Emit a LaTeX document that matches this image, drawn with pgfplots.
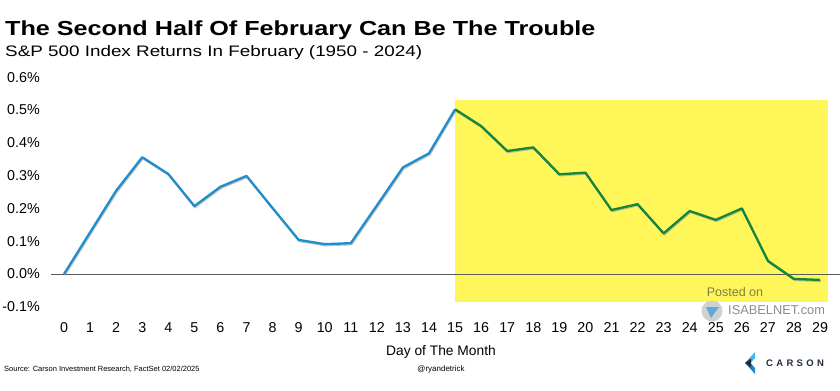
\documentclass[border=0pt]{standalone}
\usepackage{pgfplots}
\pgfplotsset{compat=1.18}
\usepackage{pgfplotstable}
\usepackage{fontspec}
\setmainfont{Liberation Sans}
\newfontfamily\titlefont[FakeStretch=1.24]{Liberation Sans}
\newfontfamily\subfont[FakeStretch=1.24]{Liberation Sans}
\definecolor{lineblue}{HTML}{1F8FCB}
\definecolor{linegreen}{HTML}{14853B}
\definecolor{hiyellow}{HTML}{FFF75A}
\definecolor{zerogray}{HTML}{5A5A5A}
\definecolor{navy}{HTML}{1F2D3D}
\definecolor{carsonlight}{HTML}{3CB8EC}
\definecolor{carsondark}{HTML}{1C86C8}

\pgfplotstableread{
d r
0 0.000
1 0.127
2 0.254
3 0.356
4 0.305
5 0.207
6 0.266
7 0.299
8 0.201
9 0.104
10 0.091
11 0.094
12 0.209
13 0.325
14 0.368
15 0.502
}\firsthalf
\pgfplotstableread{
d r
15 0.502
16 0.451
17 0.375
18 0.386
19 0.304
20 0.309
21 0.195
22 0.213
23 0.124
24 0.192
25 0.165
26 0.200
27 0.040
28 -0.015
29 -0.018
}\secondhalf

\begin{document}
\begin{tikzpicture}[x=1bp,y=1bp]
\begin{axis}[
  at={(51bp,83.2bp)}, anchor=south west,
  scale only axis, width=788.6bp, height=229.6bp,
  xmin=-0.5, xmax=29.75, ymin=-0.1, ymax=0.6,
  axis line style={draw=none},
  major tick length=0pt,
  clip=false,
  xtick={0,...,29},
  ytick={-0.1,0,0.1,0.2,0.3,0.4,0.5,0.6},
  yticklabels={-0.1\%,0.0\%,0.1\%,0.2\%,0.3\%,0.4\%,0.5\%,0.6\%},
  /pgf/number format/assume math mode=true,
  tick label style={font=\fontsize{14.3bp}{16bp}\selectfont, inner sep=0pt},
  yticklabel style={anchor=east, xshift=-11bp},
  xticklabel style={anchor=base, yshift=-25.2bp},
]
\addplot[fill=hiyellow, draw=none] coordinates {(15,-0.086) (29.31,-0.086) (29.31,0.5305) (15,0.5305)} -- cycle;
\draw[zerogray, line width=0.9bp] (axis cs:-0.5,0) -- (axis cs:29.75,0);
\addplot[black!40, line width=2bp, xshift=0.7bp, yshift=-1.2bp, opacity=0.6] table[x=d,y=r] {\firsthalf};
\addplot[black!40, line width=2bp, xshift=0.7bp, yshift=-1.2bp, opacity=0.6] table[x=d,y=r] {\secondhalf};
\addplot[lineblue, line width=2.3bp, line join=round] table[x=d,y=r] {\firsthalf};
\addplot[linegreen, line width=2.3bp, line join=round] table[x=d,y=r] {\secondhalf};
\end{axis}
% titles
\node[anchor=base west, inner sep=0pt] at (5,355) {\titlefont\bfseries\fontsize{20.3bp}{24bp}\selectfont The Second Half Of February Can Be The Trouble};
\node[anchor=base west, inner sep=0pt] at (5,333.5) {\subfont\fontsize{15.2bp}{18bp}\selectfont S\&P 500 Index Returns In February (1950 - 2024)};
% axis label and footer
\node[inner sep=0pt] at (441,38) {\fontsize{13.8bp}{16bp}\selectfont Day of The Month};
\node[anchor=west, inner sep=0pt] at (4,21) {\fontsize{7.5bp}{9bp}\selectfont Source: Carson Investment Research, FactSet 02/02/2025};
\node[inner sep=0pt] at (441,21) {\fontsize{8bp}{9bp}\selectfont @ryandetrick};
% watermark
\node[inner sep=0pt, text={rgb,255:red,128;green,124;blue,70}] at (735,98) {\fontsize{12.5bp}{14bp}\selectfont Posted on};
\fill[black!18] (712,79) circle (10.5);
\fill[carsondark!70] (706,83) -- (719,83) -- (711,72) -- cycle;
\node[anchor=west, inner sep=0pt, text=black!45] at (728,80) {\fontsize{12.8bp}{14bp}\selectfont ISABELNET.com};
% Carson logo
\fill[carsonlight] (755,38) -- (745,27) -- (750.5,27) -- (755,32) -- cycle;
\fill[carsondark] (755,16) -- (745,27) -- (750.5,27) -- (755,22) -- cycle;
\fill[navy] (745,27) -- (751,31.5) -- (751,22.5) -- cycle;
\node[anchor=west, inner sep=0pt, text=navy] at (766,27) {\bfseries\fontsize{9.5bp}{10bp}\selectfont C\hspace{3.3bp}A\hspace{3.3bp}R\hspace{3.3bp}S\hspace{3.3bp}O\hspace{3.3bp}N};
\pgfresetboundingbox
\useasboundingbox (0,0) rectangle (840,390);
\end{tikzpicture}
\end{document}
